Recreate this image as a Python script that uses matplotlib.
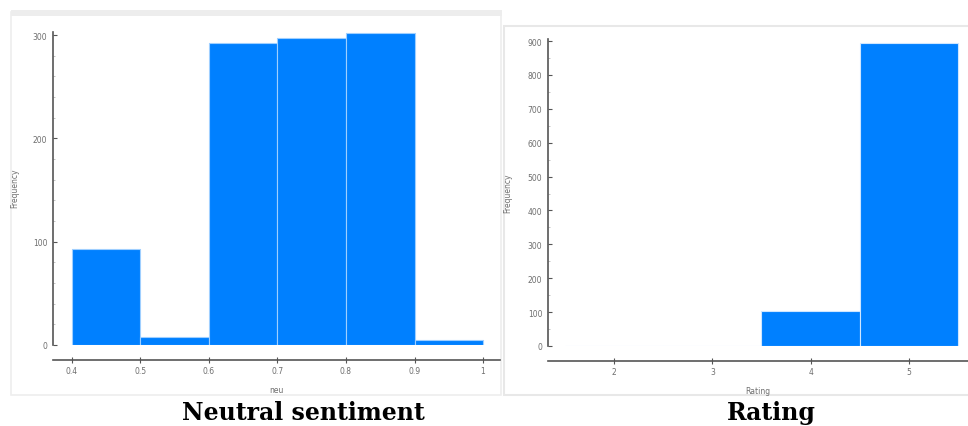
import matplotlib
matplotlib.use("Agg")
import matplotlib.pyplot as plt
from matplotlib.patches import Rectangle
from matplotlib.ticker import MultipleLocator

# ---- data ----
neu_edges = [0.4, 0.5, 0.6, 0.7, 0.8, 0.9, 1.0]
neu_counts = [93, 8, 292, 297, 302, 5]
neu_xticks = [0.4, 0.5, 0.6, 0.7, 0.8, 0.9, 1.0]
neu_xticklabels = ["0.4", "0.5", "0.6", "0.7", "0.8", "0.9", "1"]
neu_yticks = [0, 100, 200, 300]

rating_edges = [1.5, 2.5, 3.5, 4.5, 5.5]
rating_counts = [1, 0, 103, 895]
rating_xticks = [2, 3, 4, 5]
rating_yticks = [0, 100, 200, 300, 400, 500, 600, 700, 800, 900]

titles = ["Neutral sentiment", "Rating"]
xlabels = ["neu", "Rating"]
ylabel = "Frequency"

W, H = 968, 427
fig = plt.figure(figsize=(W / 100, H / 100), dpi=100)
fig.patch.set_facecolor("white")

def px_axes(x0, y_top, x1, y_bot):
    ax = fig.add_axes([x0 / W, 1 - y_bot / H, (x1 - x0) / W, (y_bot - y_top) / H])
    ax.set_zorder(5)
    return ax

def frame(x0, y0, x1, y1, lw=1.0, color="#ebebeb"):
    r = Rectangle((x0 / W, 1 - y1 / H), (x1 - x0) / W, (y1 - y0) / H,
                  transform=fig.transFigure, facecolor="white", edgecolor=color,
                  linewidth=lw, zorder=-2)
    fig.patches.append(r)

# panel frames
frame(11, 13, 501, 396, lw=1.2, color="#eeeeee")
fig.patches.append(Rectangle((11 / W, 1 - 17 / H), 491 / W, 6 / H, transform=fig.transFigure,
                             facecolor="#ededed", edgecolor="none", zorder=-1))
frame(504, 27, 975, 396, lw=1.5, color="#e8e8e8")

BLUE = "#0080ff"
AX = "#555555"
TK = "#6e6e6e"

def style(ax, xlabel):
    for s in ["top", "right"]:
        ax.spines[s].set_visible(False)
    ax.spines["left"].set_color(AX)
    ax.spines["bottom"].set_color(AX)
    ax.spines["left"].set_linewidth(1.2)
    ax.spines["bottom"].set_linewidth(1.2)
    ax.spines["bottom"].set_position(("outward", 10.8))
    ax.patch.set_alpha(0)
    ax.tick_params(axis="y", direction="in", length=3, width=0.8, colors=AX,
                   labelsize=5.5, labelcolor=TK, pad=4)
    ax.tick_params(axis="y", which="minor", direction="in", length=1.5, width=0.5, colors="#aaaaaa")
    ax.tick_params(axis="x", direction="inout", length=5, width=0.8, colors=AX,
                   labelsize=5.5, labelcolor=TK, pad=2)
    ax.set_xlabel(xlabel, fontsize=5.5, color=TK, labelpad=7)
    ax.set_ylabel(ylabel, fontsize=5.5, color=TK, labelpad=3)

# left histogram
ax1 = px_axes(53, 31, 500, 346)
ax1.bar(neu_edges[:-1], neu_counts, width=[b - a for a, b in zip(neu_edges[:-1], neu_edges[1:])],
        align="edge", color=BLUE, edgecolor="#9fcfff", linewidth=0.8)
ax1.set_xlim(0.3723, 1.0248)
ax1.set_ylim(0, 305)
ax1.set_xticks(neu_xticks)
ax1.set_xticklabels(neu_xticklabels)
ax1.set_yticks(neu_yticks)
ax1.yaxis.set_minor_locator(MultipleLocator(20))
ax1.spines["left"].set_bounds(0, 303)
style(ax1, xlabels[0])
ax1.yaxis.set_label_coords(-0.075, 0.5)

# right histogram
ax2 = px_axes(548, 40, 968, 347)
ax2.bar(rating_edges[:-1], rating_counts, width=[b - a for a, b in zip(rating_edges[:-1], rating_edges[1:])],
        align="edge", color=BLUE, edgecolor="#cfe6ff", linewidth=0.8)
ax2.set_xlim(1.327, 5.602)
ax2.set_ylim(0, 906)
ax2.set_xticks(rating_xticks)
ax2.set_yticks(rating_yticks)
ax2.yaxis.set_minor_locator(MultipleLocator(50))
style(ax2, xlabels[1])
ax2.yaxis.set_label_coords(-0.085, 0.5)

# titles below panels
fig.text(303 / W, 1 - 413 / H, titles[0], ha="center", va="center",
         fontsize=17, fontweight="bold", family="DejaVu Serif")
fig.text(771 / W, 1 - 413 / H, titles[1], ha="center", va="center",
         fontsize=17, fontweight="bold", family="DejaVu Serif")

fig.savefig("out.png", dpi=100)
